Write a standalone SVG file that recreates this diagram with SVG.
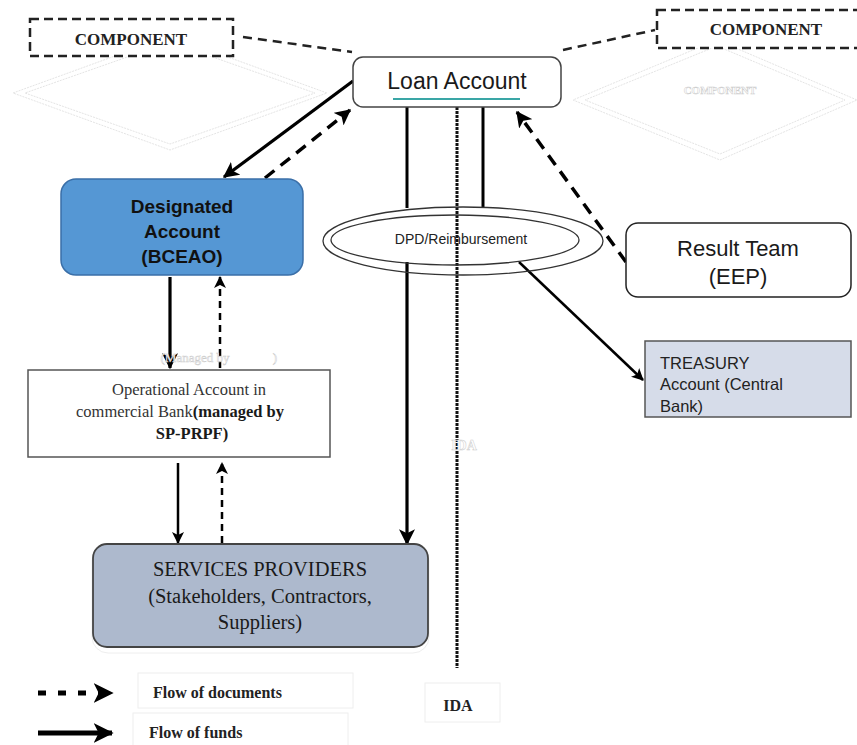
<svg xmlns="http://www.w3.org/2000/svg" width="857" height="745" viewBox="0 0 857 745">
  <defs>
    <marker id="head" viewBox="0 0 12 12" refX="11" refY="6" markerWidth="12" markerHeight="12" markerUnits="userSpaceOnUse" orient="auto">
      <path d="M0,0 L12,6 L0,12 L3,6 Z" fill="#000"/>
    </marker>
    <marker id="headBig" viewBox="0 0 12 12" refX="11" refY="6" markerWidth="16" markerHeight="16" markerUnits="userSpaceOnUse" orient="auto">
      <path d="M0,0 L12,6 L0,12 L3,6 Z" fill="#000"/>
    </marker>
    <marker id="headLegend" viewBox="0 0 12 12" refX="11" refY="6" markerWidth="20" markerHeight="20" markerUnits="userSpaceOnUse" orient="auto">
      <path d="M0,0 L12,6 L0,12 L3,6 Z" fill="#000"/>
    </marker>
  </defs>
  <style>
    .sans { font-family: "Liberation Sans", Arial, sans-serif; }
    .serif { font-family: "Liberation Serif", "Times New Roman", serif; }
    .fund { stroke: #000; stroke-width: 3.2; fill: none; marker-end: url(#headBig); }
    .fundThin { stroke: #000; stroke-width: 2.5; fill: none; marker-end: url(#head); }
    .doc { stroke: #000; stroke-width: 3.5; fill: none; stroke-dasharray: 12 8; marker-end: url(#headBig); }
    .docThin { stroke: #000; stroke-width: 2.5; fill: none; stroke-dasharray: 7 5; marker-end: url(#head); }
    .ghost { fill: #fff; stroke: #ccc; stroke-width: 0.5; }
    .diamond { fill: none; stroke: #ddd; stroke-width: 0.8; stroke-dasharray: 2 1; }
    .compbox { fill: #fff; stroke: #222; stroke-width: 2.5; stroke-dasharray: 9 5; }
  </style>
  <rect width="857" height="745" fill="#fff"/>

  <!-- faint background diamonds -->
  <g id="bg-diamonds">
    <polygon class="diamond" points="170,36 327,93 170,150 13,93"/>
    <polygon class="diamond" points="170,42 315,93 170,144 25,93"/>
    <polygon class="diamond" points="717,40 857,100 720,160 573,100"/>
    <polygon class="diamond" points="717,46 845,100 720,154 585,100"/>
    <text class="serif ghost" x="720" y="94" font-size="11" text-anchor="middle" font-weight="bold">COMPONENT</text>
  </g>

  <!-- connectors -->
  <g id="connectors">
    <!-- component links -->
    <line x1="243" y1="37" x2="352" y2="52" stroke="#222" stroke-width="2.5" stroke-dasharray="9 6"/>
    <line x1="563" y1="50" x2="655" y2="30" stroke="#222" stroke-width="2.5" stroke-dasharray="9 6"/>
    <!-- IDA line -->
    <line x1="457" y1="107" x2="457" y2="668" stroke="#111" stroke-width="3" stroke-dasharray="3 1"/>
    <!-- loan account to DPD -->
    <line x1="407" y1="107" x2="407" y2="208" stroke="#000" stroke-width="3"/>
    <line x1="483" y1="107" x2="483" y2="208" stroke="#000" stroke-width="3"/>
    <!-- loan account <-> designated -->
    <line class="fund" x1="353" y1="81" x2="224" y2="177"/>
    <line class="doc" x1="265" y1="178" x2="350" y2="110"/>
    <!-- designated <-> operational -->
    <line class="fund" x1="170" y1="277" x2="170" y2="368"/>
    <line class="docThin" x1="220" y1="368" x2="220" y2="277"/>
    <!-- operational <-> services -->
    <line class="fundThin" x1="178" y1="463" x2="178" y2="543"/>
    <line class="docThin" x1="222" y1="543" x2="222" y2="463"/>
    <!-- DPD to services -->
    <line class="fund" x1="407" y1="262" x2="407" y2="544"/>
    <!-- DPD to treasury -->
    <line class="fundThin" x1="519" y1="262" x2="643" y2="380"/>
    <!-- result team to loan account -->
    <line class="doc" x1="626" y1="262" x2="517" y2="112"/>
  </g>

  <!-- faint labels lying over the lines -->
  <g id="ghost-labels">
    <text class="serif ghost" x="195" y="362" font-size="13" text-anchor="middle">(Managed by</text>
    <text class="serif ghost" x="275" y="362" font-size="13" text-anchor="middle">)</text>
    <text class="serif ghost" x="464" y="450" font-size="14" text-anchor="middle" font-weight="bold">IDA</text>
  </g>

  <g id="component-left">
    <rect class="compbox" x="30" y="19" width="203" height="37"/>
    <text class="serif" x="131" y="45" font-size="17" font-weight="bold" text-anchor="middle" fill="#222">COMPONENT</text>
  </g>

  <g id="component-right">
    <rect class="compbox" x="657" y="10" width="210" height="38"/>
    <text class="serif" x="766" y="35" font-size="17" font-weight="bold" text-anchor="middle" fill="#222">COMPONENT</text>
  </g>

  <g id="loan-account">
    <rect x="353" y="57" width="208" height="50" rx="10" fill="#fff" stroke="#444" stroke-width="1.5"/>
    <text class="sans" x="457" y="89" font-size="23" text-anchor="middle" fill="#1a1a1a">Loan Account</text>
    <line x1="393" y1="99" x2="520" y2="99" stroke="#3aa6a6" stroke-width="2"/>
  </g>

  <g id="dpd">
    <ellipse cx="463" cy="241" rx="140" ry="34" fill="none" stroke="#333" stroke-width="1.3"/>
    <ellipse cx="455" cy="240" rx="124" ry="25" fill="none" stroke="#333" stroke-width="1.3"/>
    <text class="sans" x="461" y="244" font-size="14" text-anchor="middle" fill="#222">DPD/Reimbursement</text>
  </g>

  <g id="designated-account">
    <rect x="61" y="179" width="242" height="96" rx="15" fill="#5597d4" stroke="#3a6fa8" stroke-width="1.5"/>
    <text class="sans" x="182" y="213" font-size="19" font-weight="bold" text-anchor="middle" fill="#111">Designated</text>
    <text class="sans" x="182" y="238" font-size="19" font-weight="bold" text-anchor="middle" fill="#111">Account</text>
    <text class="sans" x="182" y="263" font-size="19" font-weight="bold" text-anchor="middle" fill="#111">(BCEAO)</text>
  </g>

  <g id="operational-account">
    <rect x="28" y="370" width="302" height="87" fill="#fff" stroke="#555" stroke-width="1.5"/>
    <text class="serif" x="189" y="395" font-size="16.5" text-anchor="middle" fill="#333">Operational Account in</text>
    <text class="serif" x="180" y="417" font-size="16.5" text-anchor="middle" fill="#333">commercial Bank<tspan font-weight="bold" fill="#1a1a1a">(managed by</tspan></text>
    <text class="serif" x="192" y="439" font-size="16.5" font-weight="bold" text-anchor="middle" fill="#1a1a1a">SP-PRPF)</text>
  </g>

  <g id="result-team">
    <rect x="626" y="223" width="225" height="74" rx="12" fill="#fff" stroke="#222" stroke-width="1.5"/>
    <text class="sans" x="738" y="256" font-size="22" text-anchor="middle" fill="#1a1a1a">Result Team</text>
    <text class="sans" x="738" y="284" font-size="22" text-anchor="middle" fill="#1a1a1a">(EEP)</text>
  </g>

  <g id="treasury">
    <rect x="645" y="341" width="206" height="76" fill="#d6dce9" stroke="#555" stroke-width="1.5"/>
    <text class="sans" x="660" y="369" font-size="16.5" fill="#222">TREASURY</text>
    <text class="sans" x="660" y="390" font-size="16.5" fill="#222">Account (Central</text>
    <text class="sans" x="660" y="412" font-size="16.5" fill="#222">Bank)</text>
  </g>

  <g id="services-providers">
    <rect x="92" y="545" width="337" height="108" rx="16" fill="none" stroke="#eee" stroke-width="1"/>
    <rect x="93" y="544" width="335" height="103" rx="14" fill="#adb9cd" stroke="#444" stroke-width="1.8"/>
    <text class="serif" x="260" y="576" font-size="20.5" text-anchor="middle" fill="#1a1a1a">SERVICES PROVIDERS</text>
    <text class="serif" x="260" y="603" font-size="20.5" text-anchor="middle" fill="#1a1a1a">(Stakeholders, Contractors,</text>
    <text class="serif" x="260" y="629" font-size="20.5" text-anchor="middle" fill="#1a1a1a">Suppliers)</text>
  </g>

  <g id="ida">
    <rect x="425" y="683" width="75" height="39" fill="#fff" stroke="#eee" stroke-width="1"/>
    <text class="serif" x="458" y="711" font-size="16" font-weight="bold" text-anchor="middle" fill="#222">IDA</text>
  </g>

  <g id="legend">
    <line x1="38" y1="693" x2="112" y2="693" stroke="#000" stroke-width="5" stroke-dasharray="8 12" marker-end="url(#headLegend)"/>
    <line x1="38" y1="733" x2="112" y2="733" stroke="#000" stroke-width="5" marker-end="url(#headLegend)"/>
    <rect x="138" y="673" width="215" height="35" fill="#fff" stroke="#eee" stroke-width="1"/>
    <text class="serif" x="153" y="698" font-size="16" font-weight="bold" fill="#222">Flow of documents</text>
    <rect x="133" y="713" width="215" height="34" fill="#fff" stroke="#eee" stroke-width="1"/>
    <text class="serif" x="149" y="738" font-size="16" font-weight="bold" fill="#222">Flow of funds</text>
  </g>
</svg>
